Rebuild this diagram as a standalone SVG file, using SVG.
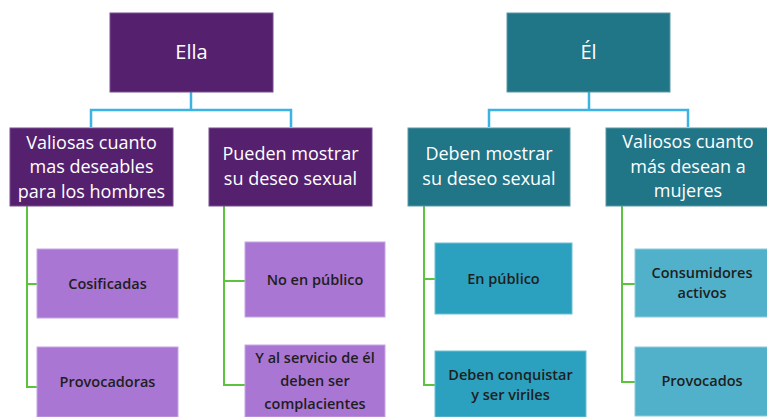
<svg xmlns="http://www.w3.org/2000/svg" width="767" height="417" viewBox="0 0 767 417">
<style>
.dp{fill:#55216f;stroke:#7a4f8f;stroke-width:1}
.dt{fill:#207587;stroke:#5a98a6;stroke-width:1}
.lp{fill:#a976d4;stroke:#c6a5e2;stroke-width:1}
.bt{fill:#2ca1bf;stroke:#6cbfd4;stroke-width:1}
.lt{fill:#52b1ca;stroke:#8ccbdc;stroke-width:1}
.w{font-family:"Open Sans","Liberation Sans",sans-serif;fill:#ffffff;text-anchor:middle}
.big{font-size:20px}
.mid{font-size:18px}
.k{font-family:"Open Sans","Liberation Sans",sans-serif;fill:#1e1e1e;text-anchor:middle;font-size:14.5px;font-weight:600}
.blue{fill:none;stroke:#3cb3e3;stroke-width:2.5}
.green{fill:none;stroke:#5cc33f;stroke-width:2}
</style>
<rect width="767" height="417" fill="#ffffff"/>
<g id="connectors">
<path class="blue" d="M191 92V110M91 127V110H291V127"/>
<path class="blue" d="M589 92V110M489 127V110H688V127"/>
<path class="green" d="M27 206V387H37M27 284H37"/>
<path class="green" d="M224 206V385H245M224 281H245"/>
<path class="green" d="M424 206V385H435M424 279H435"/>
<path class="green" d="M622 206V382H635M622 284H635"/>
</g>
<g id="ella"><rect class="dp" x="110" y="13" width="163" height="79"/><text class="w big" x="191.5" y="59">Ella</text></g>
<g id="el"><rect class="dt" x="507" y="13" width="163" height="79"/><text class="w big" x="588.5" y="59">Él</text></g>
<g id="valiosas"><rect class="dp" x="10" y="128" width="163" height="78"/><text class="w mid" x="91.5" y="148.5">Valiosas cuanto</text><text class="w mid" x="91.5" y="173">mas deseables</text><text class="w mid" x="91.5" y="197.5">para los hombres</text></g>
<g id="pueden"><rect class="dp" x="209" y="128" width="163" height="78"/><text class="w mid" x="290.5" y="160">Pueden mostrar</text><text class="w mid" x="290.5" y="184.5">su deseo sexual</text></g>
<g id="deben"><rect class="dt" x="408" y="128" width="162" height="78"/><text class="w mid" x="489" y="160">Deben mostrar</text><text class="w mid" x="489" y="184.5">su deseo sexual</text></g>
<g id="valiosos"><rect class="dt" x="606" y="128" width="163" height="78"/><text class="w mid" x="688" y="148">Valiosos cuanto</text><text class="w mid" x="688" y="172.5">más desean a</text><text class="w mid" x="688" y="197">mujeres</text></g>
<g id="cosificadas"><rect class="lp" x="37" y="249" width="141" height="69"/><text class="k" x="107.5" y="289">Cosificadas</text></g>
<g id="provocadoras"><rect class="lp" x="37" y="347" width="141" height="70"/><text class="k" x="107.5" y="387">Provocadoras</text></g>
<g id="noenpublico"><rect class="lp" x="245" y="242" width="140" height="75"/><text class="k" x="315" y="285">No en público</text></g>
<g id="yalservicio"><rect class="lp" x="245" y="345" width="140" height="72"/><text class="k" x="315" y="363">Y al servicio de él</text><text class="k" x="315" y="386">deben ser</text><text class="k" x="315" y="409">complacientes</text></g>
<g id="enpublico"><rect class="bt" x="435" y="243" width="137" height="71"/><text class="k" x="503.5" y="284">En público</text></g>
<g id="conquistar"><rect class="bt" x="435" y="351" width="151" height="66"/><text class="k" x="510.5" y="380">Deben conquistar</text><text class="k" x="510.5" y="400">y ser viriles</text></g>
<g id="consumidores"><rect class="lt" x="635" y="249" width="134" height="68"/><text class="k" x="702" y="278">Consumidores</text><text class="k" x="702" y="298">activos</text></g>
<g id="provocados"><rect class="lt" x="635" y="347" width="134" height="69"/><text class="k" x="702" y="386">Provocados</text></g>
</svg>
